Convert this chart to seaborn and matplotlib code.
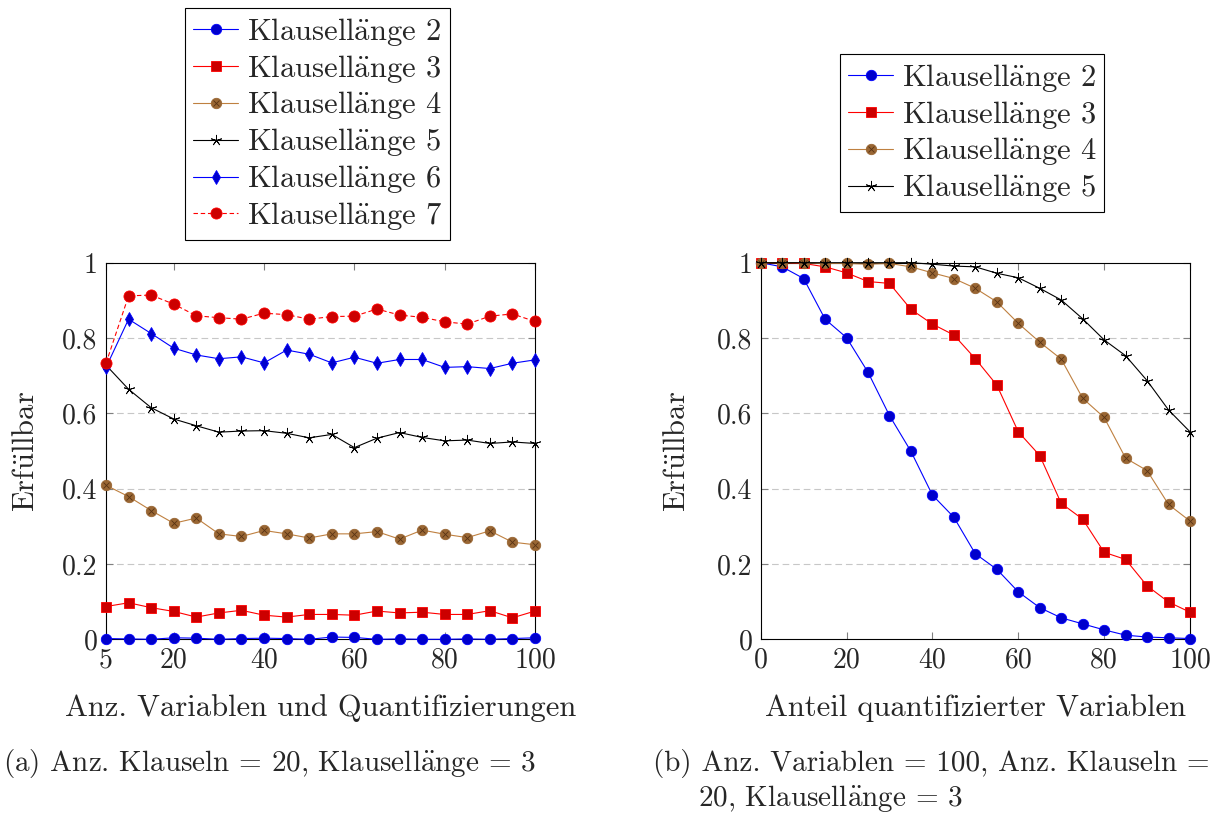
import matplotlib
matplotlib.use("Agg")
import matplotlib.pyplot as plt
import seaborn as sns
from matplotlib.lines import Line2D
from matplotlib.legend_handler import HandlerTuple
from matplotlib.ticker import FixedLocator, FuncFormatter

sns.set_style("ticks")
plt.rcParams["font.family"] = ["cmr10", "DejaVu Serif"]
plt.rcParams["mathtext.fontset"] = "cm"
plt.rcParams["axes.unicode_minus"] = False
plt.rcParams["axes.formatter.use_mathtext"] = True

FS_TICK = 20
FS_LABEL = 22
FS_LEG = 22
FS_CAP = 21

# umlauts drawn through mathtext so they stay in Computer Modern
AE = r"$\ddot{\mathrm{a}}$"
UE = r"$\ddot{\mathrm{u}}$"

# ---------------- data: panel (a) ----------------
n_vars = [5, 10, 15, 20, 25, 30, 35, 40, 45, 50,
          55, 60, 65, 70, 75, 80, 85, 90, 95, 100]
a_len2 = [0.002, 0.001, 0.000, 0.004, 0.003, 0.000, 0.002, 0.003, 0.002, 0.000,
          0.006, 0.005, 0.000, 0.001, 0.000, 0.000, 0.001, 0.000, 0.002, 0.004]
a_len3 = [0.087, 0.097, 0.084, 0.074, 0.059, 0.070, 0.077, 0.064, 0.059, 0.066,
          0.066, 0.064, 0.075, 0.070, 0.072, 0.066, 0.066, 0.076, 0.057, 0.075]
a_len4 = [0.409, 0.379, 0.342, 0.308, 0.322, 0.280, 0.273, 0.289, 0.280, 0.269,
          0.280, 0.280, 0.286, 0.266, 0.290, 0.279, 0.270, 0.288, 0.258, 0.251]
a_len5 = [0.728, 0.664, 0.615, 0.585, 0.567, 0.550, 0.553, 0.554, 0.547, 0.535,
          0.544, 0.509, 0.534, 0.549, 0.536, 0.527, 0.529, 0.520, 0.524, 0.520]
a_len6 = [0.722, 0.850, 0.812, 0.773, 0.755, 0.745, 0.750, 0.734, 0.768, 0.757,
          0.734, 0.749, 0.733, 0.743, 0.743, 0.722, 0.724, 0.719, 0.733, 0.742]
a_len7 = [0.733, 0.912, 0.914, 0.890, 0.859, 0.854, 0.850, 0.866, 0.862, 0.850,
          0.857, 0.858, 0.877, 0.861, 0.855, 0.843, 0.837, 0.858, 0.864, 0.844]

# ---------------- data: panel (b) ----------------
share_quant = [0, 5, 10, 15, 20, 25, 30, 35, 40, 45, 50,
               55, 60, 65, 70, 75, 80, 85, 90, 95, 100]
b_len2 = [1.000, 0.989, 0.958, 0.850, 0.801, 0.709, 0.594, 0.499, 0.383, 0.324, 0.227,
          0.186, 0.126, 0.084, 0.057, 0.041, 0.025, 0.011, 0.006, 0.004, 0.002]
b_len3 = [1.000, 1.000, 0.998, 0.989, 0.973, 0.950, 0.945, 0.876, 0.837, 0.808, 0.745,
          0.675, 0.551, 0.488, 0.361, 0.319, 0.231, 0.212, 0.142, 0.099, 0.072]
b_len4 = [1.000, 1.000, 1.000, 0.998, 0.998, 0.996, 0.998, 0.989, 0.973, 0.958, 0.932,
          0.896, 0.839, 0.789, 0.744, 0.640, 0.589, 0.481, 0.448, 0.358, 0.314]
b_len5 = [1.000, 1.000, 1.000, 1.000, 1.000, 1.000, 1.000, 1.000, 0.996, 0.991, 0.989,
          0.972, 0.960, 0.932, 0.901, 0.851, 0.795, 0.753, 0.687, 0.609, 0.551]

clause_lengths = [2, 3, 4, 5, 6, 7]
labels_a = [f"Klausell{AE}nge {k}" for k in clause_lengths]
labels_b = labels_a[:4]

xticks_a = [5, 20, 40, 60, 80, 100]
xticks_b = [0, 20, 40, 60, 80, 100]
yticks = [0, 0.2, 0.4, 0.6, 0.8, 1]

ylabel = f"Erf{UE}llbar"
xlabel_a = "Anz. Variablen und Quantifizierungen"
xlabel_b = "Anteil quantifizierter Variablen"
caption_a = f"(a) Anz. Klauseln = 20, Klausell{AE}nge = 3"
caption_b1 = "(b) Anz. Variablen = 100, Anz. Klauseln ="
caption_b2 = f"20, Klausell{AE}nge = 3"

# ---------------- styles ----------------
BLUE, BLUE_F = (0, 0, 1), (0, 0, 0.8)
RED, RED_F = (1, 0, 0), (0.8, 0, 0)
BROWN, BROWN_F = (0.75, 0.5, 0.25), (0.6, 0.4, 0.2)
BLACK = (0, 0, 0)
CROSS = (0.35, 0.2, 0.08)

styles = [
    dict(color=BLUE, marker="o", mfc=BLUE_F, mec=BLUE, ms=7.5, ls="-"),
    dict(color=RED, marker="s", mfc=RED_F, mec=RED, ms=7.0, ls="-"),
    dict(color=BROWN, marker="o", mfc=BROWN_F, mec=BROWN_F, ms=7.5, ls="-", cross=True),
    dict(color=BLACK, marker=(5, 2, 0), mfc=BLACK, mec=BLACK, ms=8.0, ls="-"),
    dict(color=BLUE, marker="d", mfc=BLUE_F, mec=BLUE, ms=7.5, ls="-"),
    dict(color=RED, marker="o", mfc=RED_F, mec=RED, ms=8.0, ls=(0, (4, 2.5))),
]


def draw_series(ax, x, y, st, z):
    sns.lineplot(x=x, y=y, ax=ax, color=st["color"], linewidth=0.8,
                 linestyle=st["ls"], marker=st["marker"], markersize=st["ms"],
                 markerfacecolor=st["mfc"], markeredgecolor=st["mec"],
                 markeredgewidth=0.6, clip_on=False, zorder=z)
    if st.get("cross"):
        ax.plot(x, y, linestyle="none", marker="x", markersize=st["ms"] * 0.55,
                markeredgecolor=CROSS, markeredgewidth=0.6,
                clip_on=False, zorder=z + 0.5)


def legend_handles(n):
    hs = []
    for st in styles[:n]:
        base = Line2D([], [], color=st["color"], linewidth=0.8, linestyle=st["ls"],
                      marker=st["marker"], markersize=st["ms"],
                      markerfacecolor=st["mfc"], markeredgecolor=st["mec"],
                      markeredgewidth=0.6)
        if st.get("cross"):
            cross = Line2D([], [], linestyle="none", marker="x",
                           markersize=st["ms"] * 0.55,
                           markeredgecolor=CROSS, markeredgewidth=0.6)
            hs.append((base, cross))
        else:
            hs.append(base)
    return hs


def style_axes(ax, xlim, xticks, xlabel, ylab_x):
    ax.set_xlim(*xlim)
    ax.set_ylim(0, 1)
    ax.xaxis.set_major_locator(FixedLocator(xticks))
    ax.yaxis.set_major_locator(FixedLocator(yticks))
    ax.yaxis.set_major_formatter(FuncFormatter(lambda v, p: f"{v:g}"))
    ax.xaxis.set_major_formatter(FuncFormatter(lambda v, p: f"{v:g}"))
    ax.tick_params(direction="in", top=True, right=True, length=5, width=0.8,
                   color="0.5", labelsize=FS_TICK, pad=6)
    for s in ax.spines.values():
        s.set_visible(True)
        s.set_color("black")
        s.set_linewidth(0.8)
    for v in yticks[1:-1]:
        ax.axhline(v, color="0.78", linewidth=0.8, linestyle=(0, (6, 3.5)), zorder=0)
    ax.set_xlabel(xlabel, fontsize=FS_LABEL)
    ax.set_ylabel(ylabel, fontsize=FS_LABEL)
    ax.yaxis.set_label_coords(ylab_x, 0.5)
    ax.xaxis.set_label_coords(0.5, -0.146)


fig = plt.figure(figsize=(12.2, 8.14), dpi=100)
ax_a = fig.add_axes([106 / 1220, 1 - 639.3 / 814, 429 / 1220, 376.6 / 814])
ax_b = fig.add_axes([760.7 / 1220, 1 - 639.3 / 814, 429.3 / 1220, 376.6 / 814])

for i, y in enumerate([a_len2, a_len3, a_len4, a_len5, a_len6, a_len7]):
    draw_series(ax_a, n_vars, y, styles[i], 3 + i)
for i, y in enumerate([b_len2, b_len3, b_len4, b_len5]):
    draw_series(ax_b, share_quant, y, styles[i], 3 + i)

style_axes(ax_a, (5, 100), xticks_a, xlabel_a, -0.153)
style_axes(ax_b, (0, 100), xticks_b, xlabel_b, -0.163)

leg_kw = dict(fontsize=FS_LEG, frameon=True, fancybox=False, edgecolor="black",
              framealpha=1, handlelength=1.5, handletextpad=0.28,
              labelspacing=0.16, borderpad=0.25, borderaxespad=0,
              handler_map={tuple: HandlerTuple(ndivide=1)})
lg_a = fig.legend(legend_handles(6), labels_a, loc="upper left",
                  bbox_to_anchor=(185 / 1220, 1 - 8 / 814), **leg_kw)
lg_b = fig.legend(legend_handles(4), labels_b, loc="upper left",
                  bbox_to_anchor=(840 / 1220, 1 - 54 / 814), **leg_kw)
for lg in (lg_a, lg_b):
    lg.get_frame().set_linewidth(0.8)

fig.text(3 / 1220, 1 - 763 / 814, caption_a, fontsize=FS_CAP, va="center", ha="left")
fig.text(653 / 1220, 1 - 763 / 814, caption_b1, fontsize=FS_CAP, va="center", ha="left")
fig.text(698 / 1220, 1 - 798 / 814, caption_b2, fontsize=FS_CAP, va="center", ha="left")

fig.savefig("out.png", dpi=100)
